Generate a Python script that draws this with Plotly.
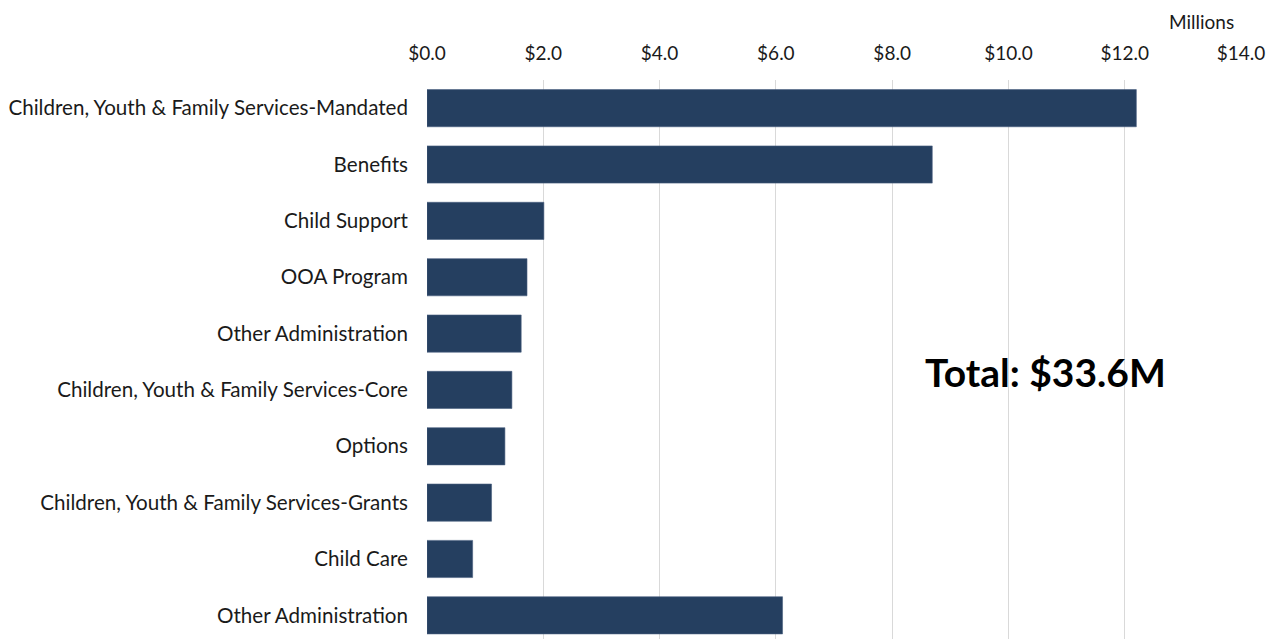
import plotly.graph_objects as go

categories = [
    "Children, Youth & Family Services-Mandated",
    "Benefits",
    "Child Support",
    "OOA Program",
    "Other Administration",
    "Children, Youth & Family Services-Core",
    "Options",
    "Children, Youth & Family Services-Grants",
    "Child Care",
    "Other Administration",
]
values = [12.20, 8.69, 2.01, 1.72, 1.62, 1.46, 1.34, 1.11, 0.785, 6.115]
x_ticks = [0, 2, 4, 6, 8, 10, 12, 14]
x_tick_labels = ["$0.0", "$2.0", "$4.0", "$6.0", "$8.0", "$10.0", "$12.0", "$14.0"]
positions = list(range(len(categories)))

BAR = "#253F60"
FONT = "Lato"
TXT = "#1a1a1a"

fig = go.Figure(go.Bar(
    x=values, y=positions, orientation="h",
    marker=dict(color=BAR, line=dict(color="#4a6080", width=0.6)),
    width=0.66,
))

# page body has an 8px margin, compensate so plot lands at the same screen pixels
fig.update_layout(
    width=1280, height=639,
    margin=dict(l=419, r=47, t=72, b=8),
    paper_bgcolor="white", plot_bgcolor="white",
    showlegend=False,
    font=dict(family=FONT, size=20, color=TXT),
)
fig.update_xaxes(
    side="top", range=[0, 14], tickvals=x_ticks, ticktext=x_tick_labels,
    showgrid=True, gridcolor="#D9D9D9", gridwidth=1.2,
    zeroline=False, showline=False,
    ticks="", ticklabelstandoff=15, automargin=False,
    tickfont=dict(family=FONT, size=19, color=TXT),
    fixedrange=True,
)
fig.update_yaxes(
    range=[9.42, -0.5], tickvals=positions, ticktext=categories,
    showgrid=False, zeroline=False, showline=False,
    ticks="", ticklabelstandoff=18, automargin=False,
    tickfont=dict(family=FONT, size=20.6, color=TXT),
    fixedrange=True,
)
fig.add_annotation(
    text="Millions", xref="paper", yref="paper",
    x=0.9517, y=1.1055, xanchor="center", yanchor="middle",
    showarrow=False, font=dict(family=FONT, size=19, color=TXT),
)
fig.add_annotation(
    text="<b>Total: $33.6M</b>", xref="x", yref="y",
    x=10.64, y=4.68, xanchor="center", yanchor="middle",
    showarrow=False, font=dict(family=FONT, size=39, color="black"),
)

fig.write_html("out.html")
